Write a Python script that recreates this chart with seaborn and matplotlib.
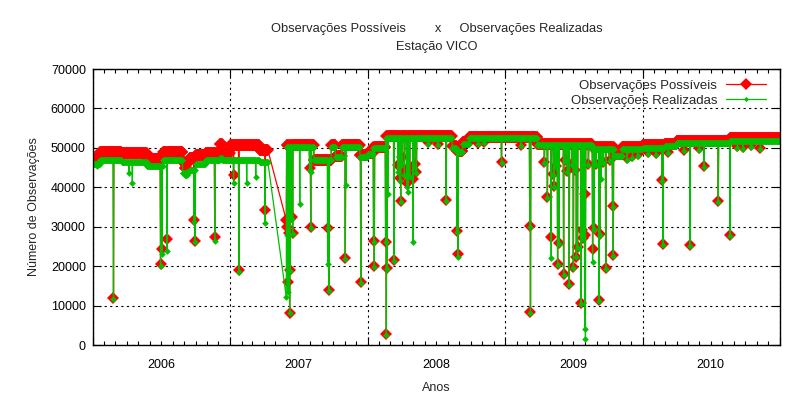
import pandas as pd
import matplotlib
matplotlib.use("Agg")
import matplotlib.pyplot as plt
import matplotlib.dates as mdates
from matplotlib.ticker import FuncFormatter, MultipleLocator
from matplotlib.lines import Line2D
import seaborn as sns

# niveis de base (valor vale a partir da data ate a proxima)
level_dates = ["2006-01-01", "2006-01-20", "2006-03-19", "2006-05-25", "2006-07-07",
               "2006-08-28", "2006-09-03", "2006-09-08", "2006-09-15", "2006-09-30",
               "2006-10-28", "2006-12-05", "2006-12-11", "2007-01-01", "2007-03-20",
               "2007-05-30", "2007-08-12", "2007-09-27", "2007-10-08", "2007-10-25",
               "2007-12-12", "2008-01-01", "2008-01-16", "2008-02-18", "2008-08-13",
               "2008-08-25", "2008-09-10", "2008-09-27", "2009-03-27", "2009-08-20",
               "2009-10-17", "2009-11-08", "2010-01-01", "2010-03-01", "2010-04-01",
               "2010-08-20"]
level_poss = [47300, 49000, 48700, 47300, 49000,
              46500, 45000, 46500, 47500, 48300,
              48800, 51000, 48800, 50700, 49500,
              50700, 47000, 50700, 48000, 50700,
              48200, 48800, 50300, 53000, 50500,
              49300, 51500, 52800, 51100, 50100,
              48500, 50300, 50600, 51000, 51700,
              52400]
level_real = [45800, 47000, 46500, 45500, 47000,
              43500, 43000, 44000, 44500, 46000,
              46800, 47500, 46800, 47000, 46500,
              50200, 46800, 50200, 47700, 50200,
              47800, 48400, 49900, 52500, 50000,
              49000, 51000, 52400, 50700, 49700,
              48000, 49800, 50000, 50400, 51200,
              51700]

# periodo sem dados
gap_start = "2007-04-12"
gap_end = "2007-05-29"

# dias com queda nas duas series
dip_dates = ["2006-02-25", "2006-06-30", "2006-07-04", "2006-07-17", "2006-09-27",
             "2006-09-30", "2006-11-21", "2007-01-10", "2007-01-24", "2007-04-04",
             "2007-05-30", "2007-06-02", "2007-06-04", "2007-06-06", "2007-06-08",
             "2007-06-10", "2007-06-13", "2007-06-16", "2007-07-31", "2007-08-03",
             "2007-09-19", "2007-09-21", "2007-11-03", "2007-12-14", "2008-01-17",
             "2008-01-19", "2008-02-18", "2008-02-20", "2008-02-22", "2008-03-11",
             "2008-03-22", "2008-03-26", "2008-03-29", "2008-04-02", "2008-04-08",
             "2008-04-14", "2008-04-18", "2008-04-22", "2008-05-01", "2008-05-05",
             "2008-05-10", "2008-06-10", "2008-07-05", "2008-07-28", "2008-08-26",
             "2008-08-28", "2008-10-20", "2008-11-05", "2008-12-22", "2009-02-11",
             "2009-03-07", "2009-03-09", "2009-04-15", "2009-04-23", "2009-05-03",
             "2009-05-09", "2009-05-11", "2009-05-15", "2009-05-20", "2009-05-24",
             "2009-06-05", "2009-06-10", "2009-06-15", "2009-06-20", "2009-06-28",
             "2009-07-01", "2009-07-05", "2009-07-09", "2009-07-12", "2009-07-21",
             "2009-07-24", "2009-07-26", "2009-07-31", "2009-08-02", "2009-08-10",
             "2009-08-21", "2009-08-25", "2009-08-30", "2009-09-07", "2009-09-09",
             "2009-09-18", "2009-09-25", "2009-10-05", "2009-10-13", "2009-10-15",
             "2009-11-20", "2009-12-05", "2009-12-20", "2010-01-15", "2010-02-05",
             "2010-02-22", "2010-02-24", "2010-03-10", "2010-04-20", "2010-05-07",
             "2010-06-01", "2010-06-13", "2010-07-21", "2010-08-21", "2010-09-10",
             "2010-09-25", "2010-10-15", "2010-11-10"]
dip_poss = [12000, 20500, 24300, 26800, 31700,
            26500, 27300, 43100, 19000, 34200,
            31700, 30000, 16000, 28300, 8200,
            19000, 32500, 28400, 45000, 30000,
            29800, 13900, 22000, 15900, 26400,
            20000, 26200, 2700, 19500, 21500,
            45600, 42300, 36500, 47700, 44000,
            41000, 45000, 43000, 42000, 46000,
            44000, 51500, 51000, 36800, 28900,
            23100, 51300, 51500, 46300, 50700,
            30200, 8400, 46500, 37500, 27300,
            43300, 40300, 45500, 20500, 25800,
            18000, 47000, 44100, 15500, 46000,
            19700, 44500, 22400, 24800, 10700,
            29200, 27100, 38300, 27900, 46000,
            24300, 29600, 46000, 11400, 28100,
            46500, 19500, 47000, 35200, 22800,
            47500, 48000, 48500, 49000, 48700,
            41800, 25500, 49000, 49500, 25300,
            50000, 45400, 36400, 27800, 50500,
            50200, 50800, 50000]
dip_real = [11600, 20100, 23000, 23900, 31200,
            26000, 26400, 41000, 18600, 30900,
            12200, 28000, 13400, 28000, 8000,
            18800, 32000, 28200, 44500, 29800,
            29600, 13700, 21800, 15700, 26200,
            19800, 26000, 2600, 19300, 21300,
            44000, 41500, 36300, 46000, 43000,
            40000, 38900, 42500, 26000, 45000,
            43500, 51000, 50700, 36600, 28700,
            22400, 51000, 51200, 46100, 50400,
            30000, 8200, 46200, 37300, 22000,
            43000, 40000, 45200, 20300, 25600,
            17800, 46700, 43800, 15300, 45700,
            19500, 44200, 22200, 24600, 10500,
            29000, 26900, 4000, 1400, 45700,
            21100, 29400, 45700, 11200, 27900,
            46200, 19300, 46700, 35000, 22600,
            47000, 47500, 48000, 48500, 48300,
            41600, 25300, 48600, 49200, 25100,
            49500, 45200, 36200, 27600, 50000,
            49800, 50300, 49600]

# dias em que so as observacoes realizadas caem
green_dip_dates = ["2006-01-11", "2006-04-07", "2006-04-16", "2007-02-14", "2007-03-10",
                   "2007-07-05", "2007-08-05", "2007-09-17", "2007-11-05", "2008-02-24",
                   "2009-09-12"]
green_dip_vals = [45400, 43600, 41000, 41000, 42700,
                  35700, 44000, 20500, 40600, 38300,
                  42000]

# --- montar serie diaria ---
days = pd.date_range("2006-01-01", "2010-12-31", freq="D")
days = days[(days < gap_start) | (days > gap_end)]
levels = pd.DataFrame({"poss": level_poss, "real": level_real},
                      index=pd.to_datetime(level_dates))
df = levels.reindex(days, method="ffill")
df.loc[pd.to_datetime(dip_dates), "poss"] = dip_poss
df.loc[pd.to_datetime(dip_dates), "real"] = dip_real
df.loc[pd.to_datetime(green_dip_dates), "real"] = green_dip_vals
df = df.rename_axis("data").reset_index()

sns.set_style("ticks")
plt.rcParams["font.family"] = ["Liberation Sans", "DejaVu Sans"]

RED = "#ff0000"
GREEN = "#00c000"
RED_MS = 5.8
GREEN_MS = 3.4

fig, ax = plt.subplots(figsize=(8, 4), dpi=100)
fig.subplots_adjust(left=0.116, right=0.975, bottom=0.1375, top=0.8275)

sns.lineplot(data=df, x="data", y="poss", ax=ax, color=RED, lw=0.9,
             marker="D", markersize=RED_MS, markeredgewidth=0, estimator=None,
             sort=False, legend=False)
sns.lineplot(data=df, x="data", y="real", ax=ax, color=GREEN, lw=0.9,
             marker="D", markersize=GREEN_MS, markeredgewidth=0, estimator=None,
             sort=False, legend=False)

ax.set_xlim(pd.Timestamp("2006-01-01"), pd.Timestamp("2011-01-01"))
ax.set_ylim(0, 70000)
ax.yaxis.set_major_locator(MultipleLocator(10000))
ax.yaxis.set_major_formatter(FuncFormatter(lambda v, p: f"{int(v)}"))

ax.xaxis.set_major_locator(mdates.YearLocator())
ax.xaxis.set_major_formatter(FuncFormatter(lambda v, p: ""))
ax.xaxis.set_minor_locator(mdates.MonthLocator())
ax.xaxis.set_minor_formatter(FuncFormatter(
    lambda v, p: str(mdates.num2date(v).year) if mdates.num2date(v).month == 7 else ""))

ax.tick_params(axis="both", which="both", direction="in", top=True, right=True,
               colors="black", labelsize=9, width=0.8)
ax.tick_params(axis="x", which="major", length=6)
ax.tick_params(axis="x", which="minor", length=3, pad=10)
ax.tick_params(axis="y", which="major", length=6, pad=5)

ax.grid(True, which="major", color="black", linestyle=(0, (2, 3)), linewidth=0.8)
for s in ax.spines.values():
    s.set_color("black")
    s.set_linewidth(1)

ax.set_xlabel("Anos", fontsize=9, labelpad=8)
ax.set_ylabel("Número de Observações", fontsize=9, labelpad=8)
ax.set_title("Observações Possíveis        x     Observações Realizadas\nEstação VICO",
             fontsize=9.3, pad=14, linespacing=1.6)

handles = [Line2D([], [], color=RED, lw=0.9, marker="D", markersize=RED_MS, markeredgewidth=0),
           Line2D([], [], color=GREEN, lw=0.9, marker="D", markersize=GREEN_MS - 0.8,
                  markeredgewidth=0)]
ax.legend(handles, ["Observações Possíveis", "Observações Realizadas"],
          loc="upper right", bbox_to_anchor=(0.995, 1.0), frameon=False,
          markerfirst=False, handlelength=3.0, fontsize=9.5, labelspacing=0.2,
          borderaxespad=0.4, handletextpad=0.7)

fig.savefig("out.png", dpi=100)
